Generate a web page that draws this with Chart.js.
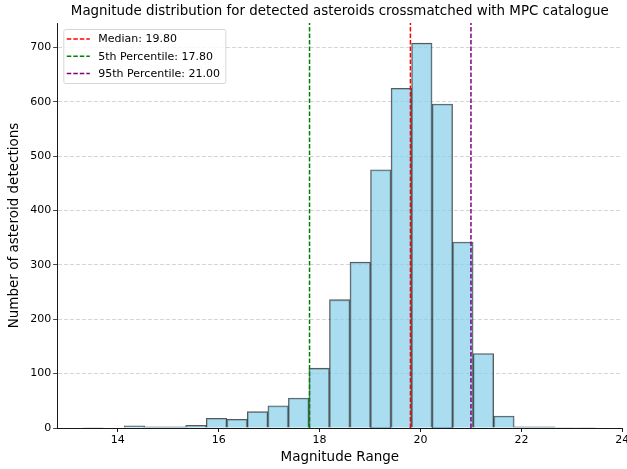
<!DOCTYPE html>
<html>
<head>
<meta charset="utf-8">
<script src="https://cdn.jsdelivr.net/npm/chart.js@4/dist/chart.umd.min.js"></script>
<style>
  html, body { margin: 0; padding: 0; background: #fff; }
  #wrap { width: 627px; height: 469px; }
</style>
</head>
<body>
<div id="wrap"><canvas id="hist"></canvas></div>
<script>
// histogram bins (magnitude), 25 bins of equal width
const binStart = 13.31;
const binWidth = 0.407;
const binCounts = [1, 0, 4, 2, 2, 5, 18, 16, 30, 41, 55, 110, 236, 305, 475, 625, 708, 596, 342, 137, 22, 2, 2, 1, 1];
const binCenters = binCounts.map((c, i) => +(binStart + binWidth * (i + 0.5)).toFixed(3));

// reference lines
const refLabels = ['Median: 19.80', '5th Percentile: 17.80', '95th Percentile: 21.00'];
const refValues = [19.80, 17.80, 21.00];
const refColors = ['#ff0000', '#008000', '#800080'];

const xTicks = [14, 16, 18, 20, 22, 24];
const yTicks = [0, 100, 200, 300, 400, 500, 600, 700];
const yTop = 745;

const FONT = "'DejaVu Sans', sans-serif";

const datasets = [{
  type: 'bar',
  label: 'Detections',
  data: binCounts.map((c, i) => ({ x: binCenters[i], y: c })),
  backgroundColor: 'rgba(135,206,235,0.7)',
  borderColor: 'rgba(0,0,0,0.65)',
  borderWidth: 1.1,
  barPercentage: 1,
  categoryPercentage: 1,
  order: 2
}];
refValues.forEach((v, i) => {
  datasets.push({
    type: 'line',
    label: refLabels[i],
    data: [{ x: v, y: 0 }, { x: v, y: yTop }],
    borderColor: refColors[i],
    borderWidth: 1.5,
    borderDash: [4.5, 2],
    pointRadius: 0,
    order: 1
  });
});

// title + legend drawn inside the axes like matplotlib
const overlay = {
  id: 'overlay',
  afterDraw(chart) {
    const ctx = chart.ctx;
    const a = chart.chartArea;
    ctx.save();
    ctx.fillStyle = '#000';
    ctx.font = '13.4px ' + FONT;
    ctx.textAlign = 'center';
    ctx.textBaseline = 'middle';
    ctx.fillText('Magnitude distribution for detected asteroids crossmatched with MPC catalogue', (a.left + a.right) / 2, 12);

    // legend box
    const lx = a.left + 6.5, ly = a.top + 6.5, lw = 162, lh = 54;
    ctx.fillStyle = 'rgba(255,255,255,0.8)';
    ctx.strokeStyle = '#d6d6d6';
    ctx.lineWidth = 1;
    ctx.beginPath();
    ctx.roundRect(lx, ly, lw, lh, 2);
    ctx.fill();
    ctx.stroke();
    ctx.font = '11px ' + FONT;
    ctx.textAlign = 'left';
    refLabels.forEach((lab, i) => {
      const y = ly + 9.5 + i * 17.2;
      ctx.strokeStyle = refColors[i];
      ctx.lineWidth = 1.5;
      ctx.setLineDash([4.5, 2]);
      ctx.beginPath();
      ctx.moveTo(lx + 3, y);
      ctx.lineTo(lx + 26, y);
      ctx.stroke();
      ctx.setLineDash([]);
      ctx.fillStyle = '#000';
      ctx.fillText(lab, lx + 34.5, y + 0.5);
    });
    ctx.restore();
  }
};

new Chart(document.getElementById('hist'), {
  data: { datasets: datasets },
  options: {
    responsive: true,
    maintainAspectRatio: false,
    animation: false,
    layout: { padding: { top: 23, right: 4.7, left: 6, bottom: 0 } },
    plugins: {
      legend: { display: false },
      title: { display: false },
      tooltip: { enabled: false }
    },
    scales: {
      x: {
        type: 'linear',
        offset: false,
        min: 12.8,
        max: 24,
        afterBuildTicks: s => { s.ticks = xTicks.map(v => ({ value: v })); },
        afterFit: s => { s.height = 41; s.paddingRight = 0; s.paddingLeft = 0; },
        grid: { offset: false, drawOnChartArea: false, tickLength: 4, tickColor: '#000', tickWidth: 0.9 },
        border: { color: '#000', width: 0.9 },
        ticks: { color: '#000', font: { family: FONT, size: 11 }, padding: 2, maxRotation: 0 },
        title: { display: true, text: 'Magnitude Range', color: '#000', font: { family: FONT, size: 13.5 }, padding: { top: 0, bottom: 3 } }
      },
      y: {
        min: 0,
        max: yTop,
        afterBuildTicks: s => { s.ticks = yTicks.map(v => ({ value: v })); },
        afterFit: s => { s.width = 51.3; },
        grid: {
          color: 'rgba(180,180,180,0.7)',
          lineWidth: 0.8,
          tickLength: 4,
          tickColor: '#000',
          tickWidth: 0.9,
          tickBorderDash: [1, 0]
        },
        border: { color: '#000', width: 0.9, dash: [4, 2] },
        ticks: { color: '#000', font: { family: FONT, size: 11 }, padding: 2 },
        title: { display: true, text: 'Number of asteroid detections', color: '#000', font: { family: FONT, size: 13.5 }, padding: { top: 0, bottom: 2 } }
      }
    }
  },
  plugins: [overlay]
});
</script>
</body>
</html>
